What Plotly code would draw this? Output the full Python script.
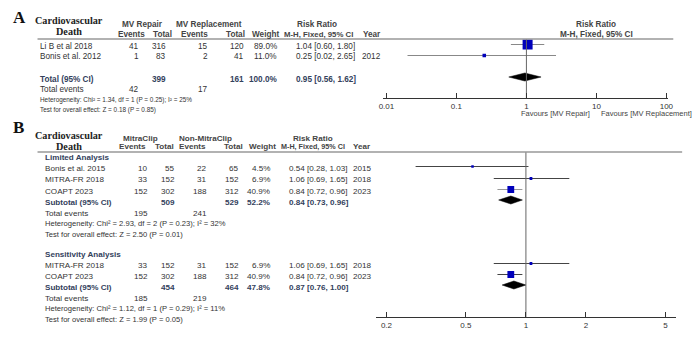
import math
import plotly.graph_objects as go

W, H = 697, 350

# ---------------- data ----------------
# Panel A: MV Repair vs MV Replacement
a_studies = ["Li B et al 2018", "Bonis et al. 2012"]
a_ev1 = [41, 1]
a_tot1 = [316, 83]
a_ev2 = [15, 2]
a_tot2 = [120, 41]
a_weight = [89.0, 11.0]
a_rr = [1.04, 0.25]
a_lo = [0.60, 0.02]
a_hi = [1.80, 2.65]
a_year = ["", "2012"]
a_total_n = [399, 161]
a_total_events = [42, 17]
a_total_est = [0.95, 0.56, 1.62]
a_het = "Heterogeneity: Chi² = 1.34, df = 1 (P = 0.25); I² = 25%"
a_test = "Test for overall effect: Z = 0.18 (P = 0.85)"
a_ticks = [0.01, 0.1, 1, 10, 100]
a_ticktext = ["0.01", "0.1", "1", "10", "100"]

# Panel B: Limited analysis
bl_studies = ["Bonis et al. 2015", "MITRA-FR 2018", "COAPT 2023"]
bl_ev1 = [10, 33, 152]
bl_tot1 = [55, 152, 302]
bl_ev2 = [22, 31, 188]
bl_tot2 = [65, 152, 312]
bl_weight = [4.5, 6.9, 40.9]
bl_rr = [0.54, 1.06, 0.84]
bl_lo = [0.28, 0.69, 0.72]
bl_hi = [1.03, 1.65, 0.96]
bl_year = ["2015", "2018", "2023"]
bl_sub_n = [509, 529]
bl_sub_weight = 52.2
bl_sub_est = [0.84, 0.73, 0.96]
bl_events = [195, 241]
bl_het = "Heterogeneity: Chi² = 2.93, df = 2 (P = 0.23); I² = 32%"
bl_test = "Test for overall effect: Z = 2.50 (P = 0.01)"

# Panel B: Sensitivity analysis
bs_studies = ["MITRA-FR 2018", "COAPT 2023"]
bs_ev1 = [33, 152]
bs_tot1 = [152, 302]
bs_ev2 = [31, 188]
bs_tot2 = [152, 312]
bs_weight = [6.9, 40.9]
bs_rr = [1.06, 0.84]
bs_lo = [0.69, 0.72]
bs_hi = [1.65, 0.96]
bs_year = ["2018", "2023"]
bs_sub_n = [454, 464]
bs_sub_weight = 47.8
bs_sub_est = [0.87, 0.76, 1.00]
bs_events = [185, 219]
bs_het = "Heterogeneity: Chi² = 1.12, df = 1 (P = 0.29); I² = 11%"
bs_test = "Test for overall effect: Z = 1.99 (P = 0.05)"
b_ticks = [0.2, 0.5, 1, 2, 5]
b_ticktext = ["0.2", "0.5", "1", "2", "5"]

# ---------------- styles / layout ----------------
SANS = "Liberation Sans, Arial, sans-serif"
SERIF = "Liberation Serif, Times New Roman, serif"
TXT = "#333333"
HDR = "#444444"
SUB = "#33415c"
SQ = "#0000bb"

fig = go.Figure()
ann = []


def T(x, y, s, anchor="left", color=TXT, size=8.5, bold=False, family=SANS, xref="paper", xshift=0):
    if bold:
        s = "<b>" + s + "</b>"
    ann.append(dict(x=(x / W if xref == "paper" else x), y=1 - y / H, xref=xref, yref="paper",
                    text=s, showarrow=False, xanchor=anchor, yanchor="middle",
                    font=dict(family=family, size=size, color=color),
                    borderpad=0, xshift=xshift))


def ci_str(e):
    return f"{e[0]:.2f} [{e[1]:.2f}, {e[2]:.2f}]"


def study_rows(cols, rows_y, studies, ev1, tot1, ev2, tot2, wt, rr, lo, hi, yr, xa, ya, line_cols, fs):
    for i, yy in enumerate(rows_y):
        T(cols["name"], yy, studies[i], size=fs)
        T(cols["e1"], yy, str(ev1[i]), "right", size=fs)
        T(cols["t1"], yy, str(tot1[i]), "right", size=fs)
        T(cols["e2"], yy, str(ev2[i]), "right", size=fs)
        T(cols["t2"], yy, str(tot2[i]), "right", size=fs)
        T(cols["w"], yy, f"{wt[i]:.1f}%", "right", size=fs)
        T(cols["rr"], yy, ci_str([rr[i], lo[i], hi[i]]), size=fs)
        if yr[i]:
            T(cols["yr"], yy, yr[i], size=fs)
        my = yy - 1.5
        fig.add_trace(go.Scatter(x=[lo[i], hi[i]], y=[my, my], xaxis=xa, yaxis=ya,
                                 mode="lines", line=dict(color=line_cols[i], width=1),
                                 hoverinfo="skip", showlegend=False))
        fig.add_trace(go.Scatter(x=[rr[i]], y=[my], xaxis=xa, yaxis=ya, mode="markers",
                                 marker=dict(symbol="square", color=SQ,
                                             size=max(2.5, 1.06 * math.sqrt(wt[i])),
                                             line=dict(width=0)),
                                 hoverinfo="skip", showlegend=False))


def diamond(est, yy, xa, ya):
    h = 4
    my = yy - 2
    fig.add_trace(go.Scatter(x=[est[1], est[0], est[2], est[0], est[1]],
                             y=[my, my - h, my, my + h, my], xaxis=xa, yaxis=ya,
                             mode="lines", fill="toself", fillcolor="black",
                             line=dict(color="black", width=0.5),
                             hoverinfo="skip", showlegend=False))


def vline(y0, y1, xa, ya):
    fig.add_trace(go.Scatter(x=[1, 1], y=[y0, y1], xaxis=xa, yaxis=ya, mode="lines",
                             line=dict(color="#666666", width=1),
                             hoverinfo="skip", showlegend=False))


# ---------- Panel A ----------
FA, FAn = 8.2, 6.4
ca = dict(name=34, e1=137, t1=164, e2=207, t2=244, w=277, rr=294, yr=361)
T(7, 17, "A", size=17, bold=True, family=SERIF, color="#111111")
T(65, 20, "Cardiovascular", "center", size=10.2, bold=True, family=SERIF, color="#222222")
T(65, 32, "Death", "center", size=10.2, bold=True, family=SERIF, color="#222222")
T(140, 25, "MV Repair", "center", color=HDR, bold=True, size=FA)
T(207, 25, "MV Replacement", "center", color=HDR, bold=True, size=FA)
T(317, 25, "Risk Ratio", "center", color=HDR, bold=True, size=FA)
T(143, 35, "Events", "right", color=HDR, bold=True, size=FA)
T(170, 35, "Total", "right", color=HDR, bold=True, size=FA)
T(207, 35, "Events", "right", color=HDR, bold=True, size=FA)
T(245, 35, "Total", "right", color=HDR, bold=True, size=FA)
T(279, 35, "Weight", "right", color=HDR, bold=True, size=FA)
T(282, 35, "M-H, Fixed, 95% CI", color=HDR, bold=True, size=7.8)
T(362, 35, "Year", color=HDR, bold=True, size=FA)
T(1, 24, "Risk Ratio", "center", color=HDR, bold=True, xref="x", size=FA)
T(1, 35, "M-H, Fixed, 95% CI", "center", color=HDR, bold=True, xref="x", size=FA)

a_rows = [46, 57]
study_rows(ca, a_rows, a_studies, a_ev1, a_tot1, a_ev2, a_tot2, a_weight, a_rr, a_lo, a_hi,
           a_year, "x", "y", ["#888888", "#888888"], FA)
T(ca["name"], 79, "Total (95% CI)", color=SUB, bold=True, size=FA)
T(ca["t1"], 79, str(a_total_n[0]), "right", color=SUB, bold=True, size=FA)
T(ca["t2"], 79, str(a_total_n[1]), "right", color=SUB, bold=True, size=FA)
T(ca["w"], 79, f"{sum(a_weight):.1f}%", "right", color=SUB, bold=True, size=FA)
T(ca["rr"], 79, ci_str(a_total_est), color=SUB, bold=True, size=FA)
diamond(a_total_est, 79, "x", "y")
T(ca["name"], 90, "Total events", size=FA)
T(ca["e1"], 90, str(a_total_events[0]), "right", size=FA)
T(ca["e2"], 90, str(a_total_events[1]), "right", size=FA)
T(ca["name"], 100, a_het, size=FAn)
T(ca["name"], 110, a_test, size=FAn)
vline(39, 98, "x", "y")
T(1, 113.5, "Favours [MV Repair]", "right", color=HDR, size=7.5, xref="x", xshift=-5)
T(1, 113.5, "Favours [MV Replacement]", "left", color=HDR, size=7.5, xref="x", xshift=4)

# ---------- Panel B ----------
FB, FBn = 8.1, 7.6
cb = dict(name=40, e1=146, t1=173, e2=206, t2=238, w=270, rr=287, yr=352)
T(7, 128, "B", size=17, bold=True, family=SERIF, color="#111111")
T(65, 135, "Cardiovascular", "center", size=10.2, bold=True, family=SERIF, color="#222222")
T(65, 147, "Death", "center", size=10.2, bold=True, family=SERIF, color="#222222")
T(137, 138, "MitraClip", "center", color=HDR, bold=True, size=FB)
T(203, 138, "Non-MitraClip", "center", color=HDR, bold=True, size=FB)
T(312, 138, "Risk Ratio", "center", color=HDR, bold=True, size=FB)
T(144, 147, "Events", "right", color=HDR, bold=True, size=FB)
T(172, 147, "Total", "right", color=HDR, bold=True, size=FB)
T(205, 147, "Events", "right", color=HDR, bold=True, size=FB)
T(242, 147, "Total", "right", color=HDR, bold=True, size=FB)
T(276, 147, "Weight", "right", color=HDR, bold=True, size=FB)
T(346, 147, "M-H, Fixed, 95% CI", "right", color=HDR, bold=True, size=7.2)
T(352, 147, "Year", color=HDR, bold=True, size=FB)
T(1, 138, "Risk Ratio", "center", color=HDR, bold=True, xref="x2", size=FB)
T(1, 147, "M-H, Fixed, 95% CI", "center", color=HDR, bold=True, xref="x2", size=FB)

T(cb["name"], 157, "Limited Analysis", color=SUB, bold=True, size=FB)
bl_rows = [168, 180, 191]
study_rows(cb, bl_rows, bl_studies, bl_ev1, bl_tot1, bl_ev2, bl_tot2, bl_weight, bl_rr, bl_lo,
           bl_hi, bl_year, "x2", "y2", ["#444444", "#444444", "#999999"], FB)
T(cb["name"], 202, "Subtotal (95% CI)", color=SUB, bold=True, size=FB)
T(cb["t1"], 202, str(bl_sub_n[0]), "right", color=SUB, bold=True, size=FB)
T(cb["t2"], 202, str(bl_sub_n[1]), "right", color=SUB, bold=True, size=FB)
T(cb["w"], 202, f"{bl_sub_weight:.1f}%", "right", color=SUB, bold=True, size=FB)
T(cb["rr"], 202, ci_str(bl_sub_est), color=SUB, bold=True, size=FB)
diamond(bl_sub_est, 202, "x2", "y2")
T(cb["name"], 213, "Total events", size=FB)
T(cb["e1"], 213, str(bl_events[0]), "right", size=FB)
T(cb["e2"], 213, str(bl_events[1]), "right", size=FB)
T(cb["name"], 223, bl_het, size=FBn)
T(cb["name"], 234, bl_test, size=FBn)

T(cb["name"], 254, "Sensitivity Analysis", color=SUB, bold=True, size=FB)
bs_rows = [265, 276]
study_rows(cb, bs_rows, bs_studies, bs_ev1, bs_tot1, bs_ev2, bs_tot2, bs_weight, bs_rr, bs_lo,
           bs_hi, bs_year, "x2", "y2", ["#444444", "#444444"], FB)
T(cb["name"], 287, "Subtotal (95% CI)", color=SUB, bold=True, size=FB)
T(cb["t1"], 287, str(bs_sub_n[0]), "right", color=SUB, bold=True, size=FB)
T(cb["t2"], 287, str(bs_sub_n[1]), "right", color=SUB, bold=True, size=FB)
T(cb["w"], 287, f"{bs_sub_weight:.1f}%", "right", color=SUB, bold=True, size=FB)
T(cb["rr"], 287, ci_str(bs_sub_est), color=SUB, bold=True, size=FB)
diamond(bs_sub_est, 287, "x2", "y2")
T(cb["name"], 298, "Total events", size=FB)
T(cb["e1"], 298, str(bs_events[0]), "right", size=FB)
T(cb["e2"], 298, str(bs_events[1]), "right", size=FB)
T(cb["name"], 308, bs_het, size=FBn)
T(cb["name"], 319, bs_test, size=FBn)
vline(152, 317, "x2", "y2")
T(1, 335, "Favours [MitraClip]", "right", color=HDR, size=8, xref="x2", xshift=-2)
T(1, 335, "Favours [Non-MitraClip]", "left", color=HDR, size=8, xref="x2", xshift=4)

shapes = [
    dict(type="line", xref="paper", yref="paper", x0=33 / W, x1=678 / W, y0=1 - 39 / H, y1=1 - 39 / H,
         line=dict(color="#999999", width=1.5)),
    dict(type="line", xref="paper", yref="paper", x0=33 / W, x1=687 / W, y0=1 - 152 / H, y1=1 - 152 / H,
         line=dict(color="#999999", width=1.5)),
]

axis_common = dict(type="log", showgrid=False, zeroline=False, showline=True,
                   linecolor="#333333", linewidth=1, ticks="inside", ticklen=5,
                   tickcolor="#333333", tickwidth=1,
                   tickfont=dict(family=SANS, size=8, color="#333333"), fixedrange=True)

fig.update_layout(
    width=W, height=H, margin=dict(l=0, r=0, t=0, b=0),
    paper_bgcolor="white", plot_bgcolor="rgba(0,0,0,0)", showlegend=False,
    xaxis=dict(domain=[384 / W, 673 / W], range=[-2.042, 2.028], anchor="y",
               tickvals=a_ticks, ticktext=a_ticktext, **axis_common),
    xaxis2=dict(domain=[376 / W, 681 / W], range=[-0.7533, 0.7533], anchor="y2",
                tickvals=b_ticks, ticktext=b_ticktext, **axis_common),
    yaxis=dict(domain=[1 - 98 / H, 1], range=[98, 0], visible=False, anchor="x",
               fixedrange=True),
    yaxis2=dict(domain=[1 - 317 / H, 1 - 120 / H], range=[317, 120], visible=False,
                anchor="x2", fixedrange=True),
    annotations=ann, shapes=shapes,
)

fig.write_html("out.html")
